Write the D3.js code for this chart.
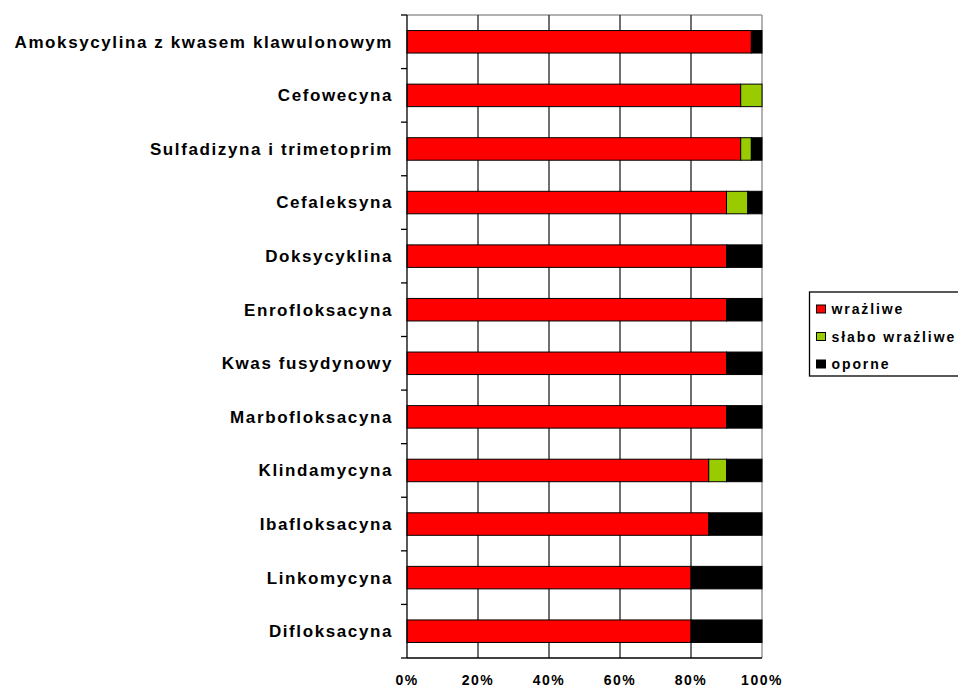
<!DOCTYPE html>
<meta charset="utf-8">
<style>
body { margin: 0; background: #fff; }
text { font-family: "Liberation Sans", Arial, sans-serif; font-weight: bold; fill: #000; }
.grid line { stroke: #222; stroke-width: 1.3; }
</style>
<body>
<svg width="958" height="688"></svg>
<script src="https://cdn.jsdelivr.net/npm/d3@7"></script>
<script>

// categories top -> bottom
var categories = ["Amoksycylina z kwasem klawulonowym", "Cefowecyna", "Sulfadizyna i trimetoprim",
  "Cefaleksyna", "Doksycyklina", "Enrofloksacyna", "Kwas fusydynowy", "Marbofloksacyna",
  "Klindamycyna", "Ibafloksacyna", "Linkomycyna", "Difloksacyna"];
var wrazliwe      = [97, 94, 94, 90, 90, 90, 90, 90, 85, 85, 80, 80];
var slaboWrazliwe = [0, 6, 3, 6, 0, 0, 0, 0, 5, 0, 0, 0];
var oporne        = [3, 0, 3, 4, 10, 10, 10, 10, 10, 15, 20, 20];
var seriesNames = ["wrażliwe", "słabo wrażliwe", "oporne"];
var seriesColors = ["#ff0000", "#99cc00", "#000000"];
var xTicks = [0, 20, 40, 60, 80, 100];

var svg = d3.select("svg"),
    margin = {top: 15, right: 196, bottom: 30, left: 407},
    width = 958 - margin.left - margin.right,
    height = 688 - margin.top - margin.bottom,
    g = svg.append("g").attr("transform", "translate(" + margin.left + "," + margin.top + ")");

var x = d3.scaleLinear().domain([0, 100]).range([0, width]);
var y = d3.scaleBand().domain(categories).range([0, height]).paddingInner(0.58).paddingOuter(0.29);
var yEdge = d3.scaleLinear().domain([0, categories.length]).range([0, height]);

var table = categories.map(function(c, i) {
  return {cat: c, w: wrazliwe[i], s: slaboWrazliwe[i], o: oporne[i]};
});
var stack = d3.stack().keys(["w", "s", "o"])(table);

// plot frame (top + right, grey)
g.append("line").attr("x1", 0).attr("x2", width).attr("y1", 0).attr("y2", 0)
  .attr("stroke", "#999").attr("stroke-width", 1.3);
g.append("line").attr("x1", width).attr("x2", width).attr("y1", 0).attr("y2", height)
  .attr("stroke", "#999").attr("stroke-width", 1.5);

// vertical gridlines
g.append("g").attr("class", "grid")
  .selectAll("line").data(xTicks.slice(1, -1))
  .enter().append("line")
  .attr("x1", function(d) { return x(d); }).attr("x2", function(d) { return x(d); })
  .attr("y1", 0).attr("y2", height);

// bars
g.selectAll(".serie").data(stack).enter().append("g")
  .attr("fill", function(d, i) { return seriesColors[i]; })
  .selectAll("rect").data(function(d) { return d; })
  .enter().append("rect")
  .attr("x", function(d) { return x(d[0]); })
  .attr("width", function(d) { return x(d[1]) - x(d[0]); })
  .attr("y", function(d) { return y(d.data.cat); })
  .attr("height", y.bandwidth())
  .attr("stroke", "#000").attr("stroke-width", 1)
  .style("display", function(d) { return d[1] - d[0] > 0 ? null : "none"; });

// left axis: line and ticks at band edges
g.append("line").attr("x1", 0).attr("x2", 0).attr("y1", 0).attr("y2", height)
  .attr("stroke", "#000").attr("stroke-width", 1.3);
g.selectAll(".ytick").data(d3.range(categories.length + 1)).enter().append("line")
  .attr("x1", -6).attr("x2", 0)
  .attr("y1", function(d) { return yEdge(d); }).attr("y2", function(d) { return yEdge(d); })
  .attr("stroke", "#000").attr("stroke-width", 1.3);

// category labels
g.selectAll(".cat").data(categories).enter().append("text")
  .attr("x", -14)
  .attr("y", function(d) { return y(d) + y.bandwidth() / 2; })
  .attr("dy", "0.35em")
  .attr("text-anchor", "end")
  .style("font-size", "17px")
  .style("letter-spacing", "1.6px")
  .text(function(d) { return d; });

// bottom axis
g.append("line").attr("x1", 0).attr("x2", width).attr("y1", height).attr("y2", height)
  .attr("stroke", "#000").attr("stroke-width", 1.3);
g.selectAll(".xlab").data(xTicks).enter().append("text")
  .attr("x", function(d) { return x(d); })
  .attr("y", height + 26.5)
  .attr("text-anchor", "middle")
  .style("font-size", "14px")
  .style("letter-spacing", "1.5px")
  .text(function(d) { return d + "%"; });

// legend
var legend = svg.append("g").attr("transform", "translate(809.5,292)");
legend.append("rect").attr("width", 152).attr("height", 84)
  .attr("fill", "#fff").attr("stroke", "#000").attr("stroke-width", 1.3);
var item = legend.selectAll(".item").data(seriesNames).enter().append("g")
  .attr("transform", function(d, i) { return "translate(7," + (17 + i * 27.5) + ")"; });
item.append("rect").attr("x", 0).attr("y", -4).attr("width", 9).attr("height", 8)
  .attr("fill", function(d, i) { return seriesColors[i]; })
  .attr("stroke", "#000").attr("stroke-width", 1);
item.append("text").attr("x", 15).attr("dy", "0.38em")
  .style("font-size", "14px").style("letter-spacing", "1.9px")
  .text(function(d) { return d; });

</script>
</body>
